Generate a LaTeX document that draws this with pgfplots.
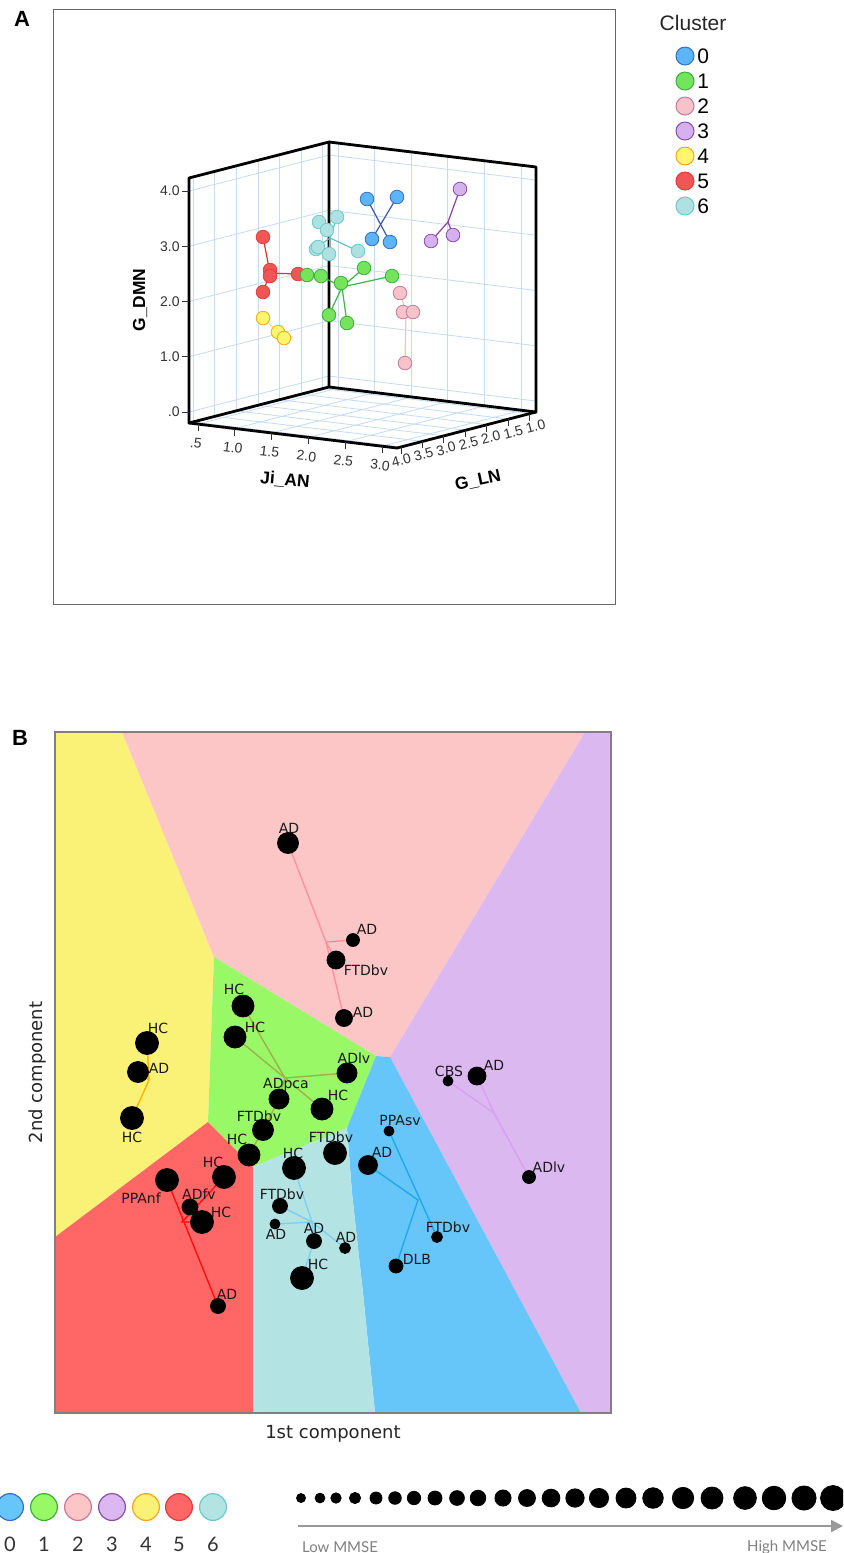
\documentclass[border=0pt]{standalone}
\usepackage{pgfplots}
\pgfplotsset{compat=1.18}
\usepackage{pgfplotstable}
\usepackage{fontspec}
\setmainfont{Liberation Sans}
\newfontfamily\dejavu{DejaVu Sans}
\newfontfamily\lato{Lato}
\usetikzlibrary{arrows.meta}

% panel B regions
\definecolor{rY}{HTML}{F9F277}
\definecolor{rP}{HTML}{FCC6C6}
\definecolor{rV}{HTML}{DCB8F0}
\definecolor{rG}{HTML}{99F866}
\definecolor{rR}{HTML}{FF6666}
\definecolor{rC}{HTML}{B3E3E3}
\definecolor{rB}{HTML}{66C6FA}
% panel B lines
\definecolor{lP}{HTML}{FF8FA3}
\definecolor{lG}{HTML}{9FB050}
\definecolor{lY}{HTML}{FFB300}
\definecolor{lR}{HTML}{FF1010}
\definecolor{lC}{HTML}{80CFF0}
\definecolor{lB}{HTML}{20A8E8}
\definecolor{lV}{HTML}{D8A0F0}
% panel A
\definecolor{a0}{HTML}{5CB5F6}\definecolor{e0}{HTML}{3A6CC0}\definecolor{l0}{HTML}{3F57B0}
\definecolor{a1}{HTML}{74E45C}\definecolor{e1}{HTML}{3DAD3D}\definecolor{l1}{HTML}{3DB845}
\definecolor{a2}{HTML}{F6C3CB}\definecolor{e2}{HTML}{C9789A}\definecolor{l2}{HTML}{D9D3A6}
\definecolor{a3}{HTML}{D5B1EE}\definecolor{e3}{HTML}{8A4AAE}\definecolor{l3}{HTML}{8B3FA8}
\definecolor{a4}{HTML}{FFF66E}\definecolor{e4}{HTML}{F5A623}\definecolor{l4}{HTML}{F2E090}
\definecolor{a5}{HTML}{F25555}\definecolor{e5}{HTML}{E23C3C}\definecolor{l5}{HTML}{E23030}
\definecolor{a6}{HTML}{AEE1E1}\definecolor{e6}{HTML}{6CC9CB}\definecolor{l6}{HTML}{5CC5C5}
\definecolor{gC}{HTML}{C4DCF2}

% Panel B samples: x y (pixel units) and radius r
\pgfplotstableread{
x y r
288 843 10.5
353 940 6.5
336 960 9
344 1018 8.5
243 1006 11
235 1037 11
347 1073 10
279 1099 10
322 1109 11
263 1130 10.5
249 1155 11
147 1043 11.5
138 1072 10.5
132 1118 11.5
224 1177 11.5
167 1180 11.5
190 1207 8
202 1222 11.5
218 1306 7.5
280 1206 7.5
275 1224 5
314 1241 7.5
345 1248 5.5
302 1278 11.5
294 1168 11.5
335 1153 11.5
389 1131 5
368 1165 9.5
437 1237 5.5
396 1266 7
448 1081 5
477 1076 9
529 1177 6.5
}\ptsB

% MMSE size scale
\pgfplotstableread{
x y r
301 1498 4.5
320 1498 4.9
336 1498 5.2
355 1498 5.6
376 1498 6.0
395 1498 6.3
414 1498 6.7
435 1498 7.0
457 1498 7.4
478 1498 7.8
503 1498 8.1
527 1498 8.5
551 1498 8.9
575 1498 9.2
599 1498 9.6
626 1498 10.0
653 1498 10.3
683 1498 10.7
712 1498 11.0
745 1498 11.4
774 1498 11.8
804 1498 12.1
833 1498 12.5
}\sizes

\pgfplotsset{
  sizedots/.style={scatter, only marks, mark=*, scatter src=explicit,
    scatter/use mapped color={draw=black, fill=black},
    visualization depends on={\thisrow{r}/2 \as \perpointr},
    scatter/@pre marker code/.append style={/tikz/mark size=\perpointr}}
}

\begin{document}
\begin{tikzpicture}
\useasboundingbox (0,0) rectangle (421.5pt,-776.5pt);
\clip (0,0) rectangle (421.5pt,-776.5pt);
\begin{scope}[x=0.5pt,y=-0.5pt,
  declare function={tA(\p)=0.0433+(\p-0.5)*0.354; sL(\p)=0.029+(4.0-\p)*0.309; uD(\p)=0.0449+\p*0.2255;}]
 \fill[white] (0,0) rectangle (843,1553);
 \draw[black!60, line width=0.5pt] (53,9) rectangle (615,604);
 \node[font=\bfseries\fontsize{11}{12}\selectfont] at (22,19) {A};
 \node[font=\bfseries\fontsize{11}{12}\selectfont] at (20,738) {B};
 % grids
 \foreach \z in {0,1,2,3,4} {
   \draw[gC, line width=0.4pt] (189,{423-245*uD(\z)}) -- (329,{387-245*uD(\z)}) -- (536,{412-245*uD(\z)});
 }
 \foreach \g in {4.0,3.5,3.0,2.5,2.0,1.5,1.0} {
   \draw[gC, line width=0.4pt] ({189+140*sL(\g)},{423-36*sL(\g)}) -- ++(0,-245);
   \draw[gC, line width=0.4pt] ({189+140*sL(\g)},{423-36*sL(\g)}) -- ++(208,25);
 }
 \foreach \v in {0.5,1.0,1.5,2.0,2.5,3.0} {
   \draw[gC, line width=0.4pt] ({329+207*tA(\v)},{387+25*tA(\v)}) -- ++(0,-245);
   \draw[gC, line width=0.4pt] ({189+208*tA(\v)},{423+25*tA(\v)}) -- ++(140,-36);
 }
 % box
 \draw[black, line width=1.4pt, line join=round] (189,423) -- (189,178) -- (329,142) -- (329,387) -- cycle;
 \draw[black, line width=1.4pt, line join=round] (329,142) -- (536,167) -- (536,412) -- (329,387);
 \draw[black, line width=1.4pt, line join=round] (189,423) -- (397,448) -- (536,412);
 % G_DMN ticks
 \foreach \z/\lab in {0/.0,1/1.0,2/2.0,3/3.0,4/4.0} {
   \draw[black!80, line width=0.5pt] (182,{423-245*uD(\z)}) -- (189,{423-245*uD(\z)});
   \node[anchor=east, inner sep=1pt, font=\fontsize{7}{8}\selectfont, text=black!80] at (182,{423-245*uD(\z)}) {\lab};
 }
 % Ji_AN ticks
 \foreach \v/\lab in {0.5/.5,1.0/1.0,1.5/1.5,2.0/2.0,2.5/2.5,3.0/3.0} {
   \draw[black!80, line width=0.5pt] ({189+208*tA(\v)},{423+25*tA(\v)}) -- ++(0,7);
   \node[rotate=-7, inner sep=0pt, font=\fontsize{7}{8}\selectfont, text=black!80] at ({187+208*tA(\v)},{442+25*tA(\v)}) {\lab};
 }
 % G_LN ticks
 \foreach \g in {4.0,3.5,3.0,2.5,2.0,1.5,1.0} {
   \draw[black!80, line width=0.5pt] ({397+139*sL(\g)},{448-36*sL(\g)}) -- ++(0,7);
   \node[rotate=15, inner sep=0pt, font=\fontsize{7}{8}\selectfont, text=black!80] at ({397+145*sL(\g)},{461-36*sL(\g)}) {\g};
 }
 % axis titles
 \node[rotate=90, font=\bfseries\fontsize{8.7}{10}\selectfont] at (140,300) {G\_DMN};
 \node[rotate=-5, font=\bfseries\fontsize{8.7}{10}\selectfont] at (285,480) {Ji\_AN};
 \node[rotate=12, inner sep=0pt, font=\bfseries\fontsize{8.7}{10}\selectfont] at (478,481) {G\_LN};
 % legend A
 \node[font=\fontsize{10.5}{12}\selectfont, text=black!85] at (693,23) {Cluster};
 \foreach \k in {0,...,6} {
   \node[anchor=west, inner sep=0pt, font=\fontsize{10.5}{12}\selectfont] at (697,{56+25*\k}) {\k};
 }
 % bottom legend
 \foreach \k/\xx in {0/10,1/44,2/78,3/112,4/146,5/179,6/213} {
   \node[font=\lato\fontsize{10}{12}\selectfont, text=black!80] at (\xx,1544) {\k};
 }
 \draw[black!40, line width=1pt, -{Triangle[length=6pt,width=6pt]}] (298,1526) -- (843,1526);
 \node[font=\lato\fontsize{7.5}{9}\selectfont, text=black!50] at (340,1547) {Low MMSE};
 \node[font=\lato\fontsize{7.5}{9}\selectfont, text=black!50] at (787,1547) {High MMSE};
\end{scope}

% ---------- panel A data and legends (pixel coordinates) ----------
\begin{axis}[at={(0pt,0pt)}, anchor=north west, scale only axis, width=421.5pt, height=776.5pt,
  xmin=0, xmax=843, ymin=0, ymax=1553, y dir=reverse, hide axis, clip=false, enlargelimits=false]
 % cluster links
 \addplot[l0, line width=0.6pt] coordinates {(367,199) (390,242)};
 \addplot[l0, line width=0.6pt] coordinates {(397,197) (372,239)};
 \addplot[l3, line width=0.6pt] coordinates {(460,189) (448,222) (431,241)};
 \addplot[l3, line width=0.6pt] coordinates {(448,222) (453,235)};
 \addplot[l6, line width=0.6pt] coordinates {(337,217) (330,238) (358,251)};
 \addplot[l6, line width=0.6pt] coordinates {(319,222) (330,238) (316,248)};
 \addplot[l6, line width=0.6pt] coordinates {(330,238) (329,254)};
 \addplot[l5, line width=0.6pt] coordinates {(263,237) (270,273) (298,274)};
 \addplot[l5, line width=0.6pt] coordinates {(270,273) (263,292)};
 \addplot[l1, line width=0.6pt] coordinates {(307,275) (321,276) (342,287) (364,268)};
 \addplot[l1, line width=0.6pt] coordinates {(342,287) (392,276)};
 \addplot[l1, line width=0.6pt] coordinates {(329,315) (342,287) (347,323)};
 \addplot[l4, line width=0.6pt] coordinates {(263,318) (278,332) (284,338)};
 \addplot[l2, line width=0.6pt] coordinates {(400,293) (406,312) (405,363)};
 \addplot[l2, line width=0.6pt] coordinates {(406,312) (413,312)};
 % cluster points
 \addplot[only marks, mark=*, mark size=3.4pt, mark options={fill=a0, draw=e0, line width=0.4pt}] coordinates {(367,199) (397,197) (372,239) (390,242)};
 \addplot[only marks, mark=*, mark size=3.4pt, mark options={fill=a3, draw=e3, line width=0.4pt}] coordinates {(460,189) (431,241) (453,235)};
 \addplot[only marks, mark=*, mark size=3.4pt, mark options={fill=a6, draw=e6, line width=0.4pt}] coordinates {(319,222) (337,217) (327,230) (316,249) (318,247) (329,254) (358,251)};
 \addplot[only marks, mark=*, mark size=3.4pt, mark options={fill=a5, draw=e5, line width=0.4pt}] coordinates {(263,237) (270,270) (270,276) (263,292) (298,274)};
 \addplot[only marks, mark=*, mark size=3.4pt, mark options={fill=a1, draw=e1, line width=0.4pt}] coordinates {(307,275) (321,276) (341,283) (364,268) (392,276) (329,315) (347,323)};
 \addplot[only marks, mark=*, mark size=3.4pt, mark options={fill=a4, draw=e4, line width=0.4pt}] coordinates {(263,318) (278,332) (284,338)};
 \addplot[only marks, mark=*, mark size=3.4pt, mark options={fill=a2, draw=e2, line width=0.4pt}] coordinates {(400,293) (403,312) (413,312) (405,363)};
 % legend A markers
 \addplot[only marks, mark=*, mark size=4.5pt, mark options={fill=a0, draw=e0, line width=0.5pt}] coordinates {(685,56)};
 \addplot[only marks, mark=*, mark size=4.5pt, mark options={fill=a1, draw=e1, line width=0.5pt}] coordinates {(685,81)};
 \addplot[only marks, mark=*, mark size=4.5pt, mark options={fill=a2, draw=e2, line width=0.5pt}] coordinates {(685,106)};
 \addplot[only marks, mark=*, mark size=4.5pt, mark options={fill=a3, draw=e3, line width=0.5pt}] coordinates {(685,131)};
 \addplot[only marks, mark=*, mark size=4.5pt, mark options={fill=a4, draw=e4, line width=0.5pt}] coordinates {(685,156)};
 \addplot[only marks, mark=*, mark size=4.5pt, mark options={fill=a5, draw=e5, line width=0.5pt}] coordinates {(685,181)};
 \addplot[only marks, mark=*, mark size=4.5pt, mark options={fill=a6, draw=e6, line width=0.5pt}] coordinates {(685,206)};
 % bottom cluster swatches
 \addplot[only marks, mark=*, mark size=6.7pt, mark options={fill=rB, draw=e0, line width=0.6pt}] coordinates {(10,1507)};
 \addplot[only marks, mark=*, mark size=6.7pt, mark options={fill=rG, draw=e1, line width=0.6pt}] coordinates {(44,1507)};
 \addplot[only marks, mark=*, mark size=6.7pt, mark options={fill=rP, draw=e2, line width=0.6pt}] coordinates {(78,1507)};
 \addplot[only marks, mark=*, mark size=6.7pt, mark options={fill=rV, draw=e3, line width=0.6pt}] coordinates {(112,1507)};
 \addplot[only marks, mark=*, mark size=6.7pt, mark options={fill=rY, draw=e4, line width=0.6pt}] coordinates {(146,1507)};
 \addplot[only marks, mark=*, mark size=6.7pt, mark options={fill=rR, draw=e5, line width=0.6pt}] coordinates {(179,1507)};
 \addplot[only marks, mark=*, mark size=6.7pt, mark options={fill=rC, draw=e6, line width=0.6pt}] coordinates {(213,1507)};
 % MMSE size scale
 \addplot[sizedots] table[x=x, y=y, meta=r] {\sizes};
\end{axis}

% ---------- panel B ----------
\begin{axis}[at={(27.5pt,-366pt)}, anchor=north west, scale only axis, width=278pt, height=340.5pt,
  xmin=55, xmax=611, ymin=732, ymax=1413, y dir=reverse, xtick=\empty, ytick=\empty,
  axis on top, axis line style={draw=black!50, line width=0.6pt},
  xlabel={1st component}, ylabel={2nd component},
  label style={font=\dejavu\fontsize{9}{11}\selectfont, text=black!85},
  xlabel style={yshift=-2.5pt}, ylabel style={yshift=1pt}]
 \addplot[fill=rY, draw=none] coordinates {(55,732) (122,732) (214,957) (208,1122) (55,1237)} -- cycle;
 \addplot[fill=rP, draw=none] coordinates {(122,732) (585,732) (390,1057) (376,1056) (214,957)} -- cycle;
 \addplot[fill=rV, draw=none] coordinates {(585,732) (611,732) (611,1413) (581,1413) (390,1057)} -- cycle;
 \addplot[fill=rG, draw=none] coordinates {(214,957) (376,1056) (347,1128) (253,1167) (208,1122)} -- cycle;
 \addplot[fill=rB, draw=none] coordinates {(376,1056) (390,1057) (581,1413) (375,1413) (363,1293) (352,1193) (347,1128)} -- cycle;
 \addplot[fill=rC, draw=none] coordinates {(347,1128) (352,1193) (363,1293) (375,1413) (253,1413) (253,1167)} -- cycle;
 \addplot[fill=rR, draw=none] coordinates {(208,1122) (253,1167) (253,1413) (55,1413) (55,1237)} -- cycle;
 % links
 \addplot[lP, line width=0.7pt] coordinates {(288,843) (326,942) (344,1018)};
 \addplot[lP, line width=0.7pt] coordinates {(326,942) (353,940)};
 \addplot[lP, line width=0.7pt] coordinates {(326,942) (336,960)};
 \addplot[lG, line width=0.7pt] coordinates {(243,1006) (285,1078) (347,1073)};
 \addplot[lG, line width=0.7pt] coordinates {(235,1037) (285,1078) (322,1109)};
 \addplot[lG, line width=0.7pt] coordinates {(285,1078) (279,1099) (263,1130) (249,1155)};
 \addplot[lY, line width=0.7pt] coordinates {(147,1043) (149,1080) (132,1118)};
 \addplot[lY, line width=0.7pt] coordinates {(149,1080) (138,1072)};
 \addplot[lR, line width=0.7pt] coordinates {(167,1180) (218,1306)};
 \addplot[lR, line width=0.7pt] coordinates {(224,1177) (182,1222) (202,1222)};
 \addplot[lC, line width=0.7pt] coordinates {(280,1206) (312,1222) (345,1248)};
 \addplot[lC, line width=0.7pt] coordinates {(275,1224) (312,1222) (294,1168)};
 \addplot[lC, line width=0.7pt] coordinates {(312,1222) (314,1241) (302,1278)};
 \addplot[lB, line width=0.7pt] coordinates {(389,1131) (437,1237)};
 \addplot[lB, line width=0.7pt] coordinates {(368,1165) (418,1200) (396,1266)};
 \addplot[lV, line width=0.7pt] coordinates {(448,1081) (494,1113) (529,1177)};
 \addplot[lV, line width=0.7pt] coordinates {(477,1076) (494,1113)};
 % samples
 \addplot[sizedots] table[x=x, y=y, meta=r] {\ptsB};
 % labels
 \begin{scope}[every node/.style={font=\dejavu\fontsize{7}{8}\selectfont, text=black!90, inner sep=0pt}]
 \node at (axis cs:289,828) {AD};
 \node at (axis cs:367,929) {AD};
 \node at (axis cs:366,970) {FTDbv};
 \node at (axis cs:363,1012) {AD};
 \node at (axis cs:234,989) {HC};
 \node at (axis cs:255,1027) {HC};
 \node at (axis cs:354,1058) {ADlv};
 \node at (axis cs:286,1085) {ADpca};
 \node at (axis cs:338,1095) {HC};
 \node at (axis cs:259,1116) {FTDbv};
 \node at (axis cs:237,1139) {HC};
 \node at (axis cs:158,1028) {HC};
 \node at (axis cs:159,1068) {AD};
 \node at (axis cs:132,1137) {HC};
 \node at (axis cs:213,1162) {HC};
 \node at (axis cs:141,1198) {PPAnf};
 \node at (axis cs:199,1194) {ADfv};
 \node at (axis cs:221,1212) {HC};
 \node at (axis cs:227,1294) {AD};
 \node at (axis cs:282,1194) {FTDbv};
 \node at (axis cs:276,1234) {AD};
 \node at (axis cs:314,1228) {AD};
 \node at (axis cs:346,1237) {AD};
 \node at (axis cs:318,1264) {HC};
 \node at (axis cs:293,1153) {HC};
 \node at (axis cs:331,1137) {FTDbv};
 \node at (axis cs:382,1152) {AD};
 \node at (axis cs:400,1120) {PPAsv};
 \node at (axis cs:448,1227) {FTDbv};
 \node at (axis cs:417,1259) {DLB};
 \node at (axis cs:449,1071) {CBS};
 \node at (axis cs:494,1065) {AD};
 \node at (axis cs:549,1167) {ADlv};
 \end{scope}
\end{axis}
\end{tikzpicture}
\end{document}
